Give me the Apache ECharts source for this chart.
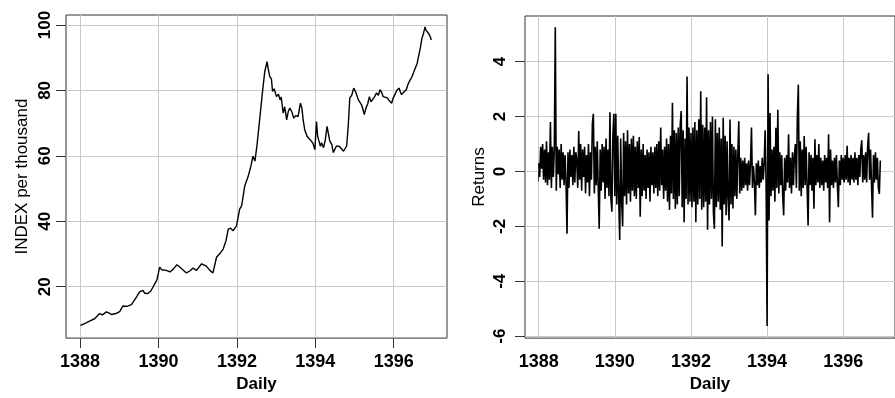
<!DOCTYPE html>
<html>
<head>
<meta charset="utf-8">
<script src="https://cdn.jsdelivr.net/npm/echarts/dist/echarts.min.js"></script>
<style>
    html, body { margin: 0; padding: 0; background: #fff; }
    #main { width: 895px; height: 398px; }
</style>
</head>
<body>
<div id="main"></div>
<script>
// tick labels
var yearTicks = [1388, 1390, 1392, 1394, 1396]
var indexTicks = [20, 40, 60, 80, 100]
var returnTicks = [-6, -4, -2, 0, 2, 4]

// index (per thousand)
var indexDates = [
    1388.01, 1388.14, 1388.24, 1388.37, 1388.50, 1388.57, 1388.67, 1388.73, 1388.80, 1388.91,
    1389.01, 1389.09, 1389.19, 1389.31, 1389.42, 1389.52, 1389.60, 1389.65, 1389.73, 1389.80,
    1389.86, 1389.90, 1389.96, 1389.99, 1390.03, 1390.08, 1390.13, 1390.20, 1390.29, 1390.37,
    1390.47, 1390.54, 1390.62, 1390.71, 1390.80, 1390.88, 1390.97, 1391.10, 1391.15, 1391.22,
    1391.31, 1391.39, 1391.44, 1391.48, 1391.57, 1391.65, 1391.72, 1391.78, 1391.84, 1391.90,
    1391.99, 1392.02, 1392.07, 1392.12, 1392.20, 1392.29, 1392.36, 1392.41, 1392.46, 1392.51,
    1392.58, 1392.65, 1392.71, 1392.77, 1392.80, 1392.84, 1392.88, 1392.91, 1392.95, 1393.01,
    1393.06, 1393.10, 1393.13, 1393.18, 1393.22, 1393.27, 1393.31, 1393.35, 1393.40, 1393.45,
    1393.50, 1393.56, 1393.59, 1393.62, 1393.66, 1393.69, 1393.73, 1393.79, 1393.84, 1393.90,
    1393.94, 1393.99, 1394.03, 1394.06, 1394.13, 1394.16, 1394.21, 1394.25, 1394.30, 1394.33,
    1394.37, 1394.42, 1394.46, 1394.50, 1394.54, 1394.61, 1394.65, 1394.72, 1394.76, 1394.80,
    1394.84, 1394.88, 1394.93, 1394.98, 1395.03, 1395.10, 1395.14, 1395.18, 1395.22, 1395.25,
    1395.29, 1395.34, 1395.38, 1395.42, 1395.46, 1395.51, 1395.56, 1395.61, 1395.65, 1395.69,
    1395.73, 1395.78, 1395.84, 1395.89, 1395.95, 1395.98, 1396.03, 1396.08, 1396.14, 1396.17,
    1396.20, 1396.26, 1396.32, 1396.37, 1396.42, 1396.46, 1396.50, 1396.54, 1396.60, 1396.65,
    1396.68, 1396.72, 1396.76, 1396.80, 1396.82, 1396.86, 1396.89, 1396.93, 1396.96
]
var indexValues = [
    8.2, 8.9, 9.5, 10.2, 11.8, 11.4, 12.3, 12.0, 11.5, 11.8,
    12.4, 14.1, 14.0, 14.5, 16.5, 18.4, 18.9, 18.0, 17.9, 18.6,
    19.9, 20.8, 22.1, 21.5, 26.0, 25.2, 25.8, 25.0, 24.5, 25.3,
    26.7, 26.0, 25.2, 24.2, 24.8, 25.7, 25.0, 27.0, 26.5, 26.3,
    25.0, 24.2, 24.6, 29.0, 30.2, 31.5, 34.0, 37.6, 37.9, 37.1,
    38.6, 40.5, 43.7, 44.7, 50.8, 53.8, 57.0, 59.9, 58.4, 63.0,
    71.0, 79.2, 85.7, 88.8, 86.5, 84.2, 83.5, 79.7, 80.5, 78.1,
    78.8, 77.1, 78.0, 73.1, 75.0, 71.0, 73.5, 74.6, 73.5, 71.5,
    72.3, 72.0, 74.0, 76.1, 74.5, 71.0, 68.0, 66.0, 65.3, 64.5,
    63.8, 61.9, 70.5, 66.0, 62.9, 64.0, 62.5, 64.5, 69.0, 67.0,
    64.5, 63.5, 61.0, 61.4, 63.0, 62.9, 62.5, 61.4, 61.5, 63.0,
    69.0, 77.7, 78.5, 80.7, 79.5, 77.1, 77.5, 75.6, 74.0, 72.6,
    74.5, 76.0, 78.1, 76.5, 77.1, 78.0, 79.2, 78.5, 80.2, 79.5,
    78.1, 78.6, 77.7, 76.8, 76.1, 77.5, 78.7, 80.0, 80.7, 79.5,
    78.7, 79.5, 80.2, 82.0, 83.2, 84.0, 85.2, 86.5, 88.3, 91.3,
    93.0, 95.9, 97.4, 99.4, 98.5, 98.2, 97.4, 96.5, 95.4
]

// returns, one row per year
var returnStart = 1388
var returnStep = 1 / 39
var returnValues = [
    // 1388
    0.3, -0.2, 0.9, 0.1, 1.0, -0.3, 0.8, -0.4, 1.1, -0.5, 0.7, -0.3, 1.8, -0.6, 0.9, -0.2, 0.8, 5.25, -0.7, 0.9,
    -0.1, 0.8, -0.6, 1.0, -0.3, 0.7, -0.5, 0.6, -0.4, -2.27, 0.7, -0.6, 0.8, -0.2, 0.6, -0.5, 0.9, -0.4, 0.7,
    // 1389
    0.4, -0.6, 1.47, -0.3, 1.0, -0.7, 0.8, -0.2, 0.9, -0.8, 0.6, -0.4, 1.0, -0.9, 0.7, -0.3, 1.75, 2.1, -0.8, 0.9,
    -0.5, 1.1, -0.6, -2.09, 0.8, -0.7, 1.0, -0.4, 0.9, -1.0, 1.2, -0.6, 0.8, -0.9, 2.15, -1.0, -1.47, 1.3, 2.1,
    // 1390
    -0.9, 2.1, -1.2, 1.3, -1.0, -2.5, 1.2, -1.1, -2.0, 1.4, -0.9, 1.1, -1.2, 1.5, -0.8, 1.0, -1.1, 1.2, -0.7, 1.3,
    -0.9, 0.9, -1.0, 1.1, -0.6, 1.25, -1.65, 0.8, -0.9, 1.0, -0.7, 0.6, -1.0, 0.8, -0.6, 0.7, -1.1, 0.9, -0.5,
    // 1391
    0.7, -0.8, 0.9, -0.6, 1.0, -0.9, 1.1, -0.7, 1.6, -0.5, 0.8, -1.0, 0.9, -0.7, 1.2, -1.1, 1.0, -1.4, 1.3, -0.8,
    2.5, -1.0, 1.5, -1.36, 1.4, -1.2, 1.6, -0.9, 1.7, 2.2, -1.3, 1.5, -1.85, 1.2, -1.0, 3.46, -1.2, 1.6, -1.1,
    // 1392
    1.4, -1.3, 1.6, -1.1, 1.8, -1.85, 1.5, -1.2, 1.9, -1.0, 2.92, -1.4, 1.7, -1.3, 1.6, -1.1, 2.7, -2.12, 1.5, -1.2,
    1.8, -1.0, 2.0, -1.5, -2.09, 1.9, -1.3, 1.4, -1.1, 1.6, -1.4, 1.2, -2.73, 1.95, -1.2, 1.3, -1.6, 1.1, -1.0,
    // 1393
    -1.79, 1.89, -1.2, 1.0, -1.35, 0.9, -0.9, 0.8, -1.0, 0.6, 1.83, -0.8, 0.5, -0.7, 0.4, -0.6, 0.5, -0.5, 0.3, -0.7,
    0.4, -0.5, 0.3, 1.6, -0.6, 0.2, -0.4, -1.6, 0.3, -0.5, 0.4, -0.6, 0.2, -0.4, 0.5, -0.3, 0.3, 1.5, -0.5,
    // 1394
    -5.63, 3.54, -1.79, 2.13, -0.9, 0.8, -0.7, 0.9, -1.1, 1.59, -0.6, 2.25, -0.8, 0.7, -0.5, 0.6, -0.9, -1.6, 0.5, -0.7,
    0.6, -0.4, 1.35, -0.6, 0.5, -0.8, 0.7, -0.5, 0.6, 1.0, -0.6, 2.0, 3.16, -0.7, 1.1, -0.9, 0.8, -0.6, 1.29,
    // 1395
    -0.5, 0.9, -0.6, -1.97, 0.7, -0.5, 0.6, -0.7, 0.5, -1.36, 1.17, -0.5, 0.6, -0.4, 1.0, -0.6, 0.5, -0.5, 0.4, -0.7,
    0.6, -0.4, 0.5, -0.6, 1.35, -1.85, 0.8, -0.5, 0.4, -0.6, 0.5, -0.4, 0.6, -0.5, -1.3, 0.4, -0.5, 0.6, -0.3,
    // 1396
    0.5, -0.4, 0.6, -0.3, 0.93, -0.4, 0.5, -0.5, 0.6, -0.3, 0.5, -0.4, 0.7, -0.3, 0.5, -0.5, 0.6, -0.2, 0.8, 1.13,
    -0.4, 0.6, -0.3, 0.7, -0.4, 0.9, 1.41, -0.3, 0.8, -0.5, -1.69, 0.6, -0.4, 0.7, -0.3, 0.5, -0.6, -0.82, 0.4
]

var fontFamily = 'Arial, "Liberation Sans", Helvetica, sans-serif'
var gridColor = '#c9c9c9'
var boxColor = '#333'

let indexData = indexDates.map(function(d, i) { return [d, indexValues[i]] })
let returnData = returnValues.map(function(v, i) { return [returnStart + i * returnStep, v] })

function plainNumber(value) {
    return String(value)
}

function xAxisFor(gridIndex) {
    return {
        type: 'value',
        gridIndex: gridIndex,
        min: 1387.64,
        max: 1397.36,
        name: 'Daily',
        nameLocation: 'middle',
        nameGap: 33,
        nameTextStyle: {
            color: '#000',
            fontSize: 17,
            fontWeight: 'bold',
            fontFamily: fontFamily
        },
        axisLine: { show: false },
        axisTick: {
            show: true,
            length: 10,
            customValues: yearTicks,
            lineStyle: { color: boxColor, width: 1 }
        },
        axisLabel: {
            customValues: yearTicks,
            formatter: plainNumber,
            margin: 15,
            color: '#000',
            fontSize: 18,
            fontWeight: 'bold',
            fontFamily: fontFamily
        },
        splitLine: {
            show: true,
            lineStyle: { color: gridColor, width: 1 }
        }
    }
}

function yAxisFor(gridIndex, min, max, ticks, name, gap, margin) {
    return {
        type: 'value',
        gridIndex: gridIndex,
        min: min,
        max: max,
        name: name,
        nameLocation: 'middle',
        nameGap: gap,
        nameTextStyle: {
            color: '#000',
            fontSize: 17,
            fontFamily: fontFamily
        },
        axisLine: { show: false },
        axisTick: {
            show: true,
            length: 10,
            customValues: ticks,
            lineStyle: { color: boxColor, width: 1 }
        },
        axisLabel: {
            customValues: ticks,
            formatter: plainNumber,
            rotate: 90,
            margin: margin,
            color: '#000',
            fontSize: 17,
            fontWeight: 'bold',
            fontFamily: fontFamily
        },
        splitLine: {
            show: true,
            lineStyle: { color: gridColor, width: 1 }
        }
    }
}

let option = {
    backgroundColor: '#fff',
    animation: false,
    grid: [{
        left: 66,
        top: 15,
        width: 381,
        height: 325,
        show: true,
        borderColor: boxColor,
        borderWidth: 1
    }, {
        left: 525,
        top: 16,
        width: 379,
        height: 324,
        show: true,
        borderColor: boxColor,
        borderWidth: 1
    }],
    xAxis: [xAxisFor(0), xAxisFor(1)],
    yAxis: [
        yAxisFor(0, 4.29, 103.04, indexTicks, 'INDEX per thousand', 35, 12),
        yAxisFor(1, -6.07, 5.66, returnTicks, 'Returns', 37, 16)
    ],
    series: [{
        name: 'INDEX',
        type: 'line',
        xAxisIndex: 0,
        yAxisIndex: 0,
        data: indexData,
        showSymbol: false,
        lineStyle: { color: '#000', width: 1.4 }
    }, {
        name: 'Returns',
        type: 'line',
        xAxisIndex: 1,
        yAxisIndex: 1,
        data: returnData,
        showSymbol: false,
        lineStyle: { color: '#000', width: 1.6 }
    }]
}

var myChart = echarts.init(document.getElementById('main'))
myChart.setOption(option)
window.addEventListener('resize', function() {
    myChart.resize()
})
</script>
</body>
</html>
